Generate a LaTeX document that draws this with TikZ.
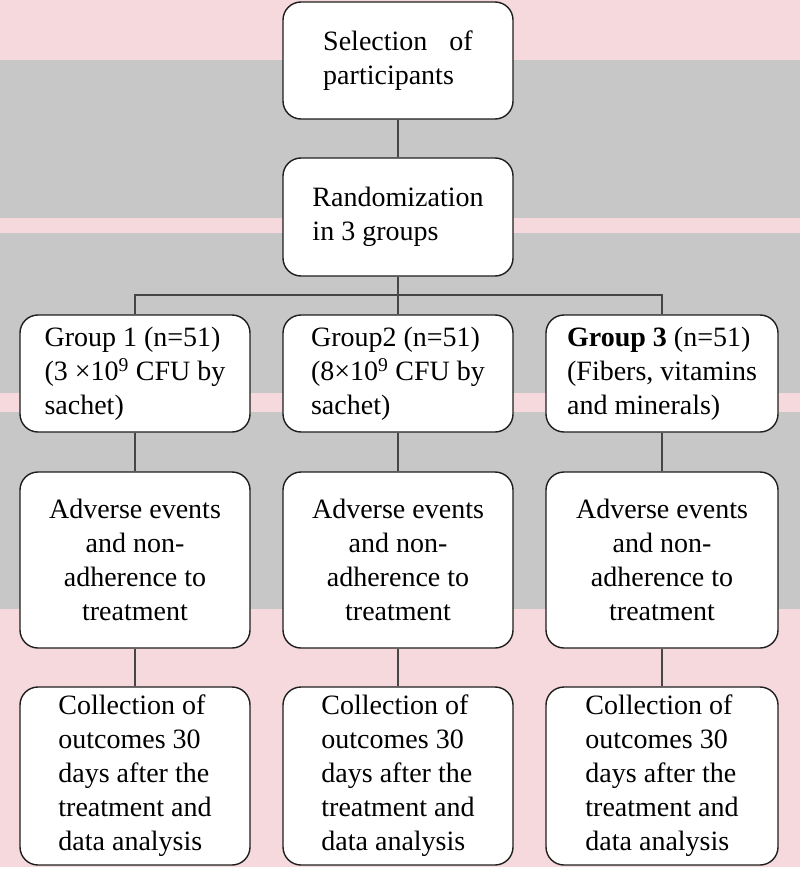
\documentclass[tikz,border=0pt]{standalone}
\usepackage{fontspec}
\setmainfont{Liberation Serif}
\usepackage{tikz}
\usetikzlibrary{positioning,calc}
\definecolor{bandpink}{RGB}{246,217,220}
\definecolor{bandgray}{RGB}{199,199,199}
\definecolor{edge}{RGB}{30,30,30}
\definecolor{wirecol}{RGB}{70,70,70}
\tikzset{
box/.style={draw=edge,line width=1.4pt,fill=white,rounded corners=18pt,align=left,
  font=\fontsize{28}{34}\selectfont,inner sep=3pt},
wire/.style={draw=wirecol,line width=2pt}
}

\begin{document}
\begin{tikzpicture}[x=1pt,y=-1pt]
\fill[white] (0,0) rectangle (800,869);
\fill[bandpink] (0,0) rectangle (800,60);
\fill[bandgray] (0,60) rectangle (800,218);
\fill[bandpink] (0,218) rectangle (800,233);
\fill[bandgray] (0,233) rectangle (800,393);
\fill[bandpink] (0,393) rectangle (800,412);
\fill[bandgray] (0,412) rectangle (800,609);
\fill[bandpink] (0,609) rectangle (800,867);
\useasboundingbox (0,0) rectangle (800,869);

\node[box,minimum width=230pt,minimum height=117pt] (select) at (398,60.5)
  {Selection\hspace{22pt}of\\participants};
\node[box,minimum width=230pt,minimum height=118pt] (rand) at (398,217)
  {Randomization\\in 3 groups};

\node[box,minimum width=230pt,minimum height=117pt] (g1) at (135,373.5)
  {Group 1 (n=51)\\(3 ×10\textsuperscript{9} CFU by\\sachet)};
\node[box,minimum width=230pt,minimum height=117pt] (g2) at (398,373.5)
  {Group2 (n=51)\\(8×10\textsuperscript{9} CFU by\\sachet)};
\node[box,minimum width=232pt,minimum height=117pt] (g3) at (662,373.5)
  {\textbf{Group 3} (n=51)\\(Fibers, vitamins\\and minerals)};

\node[box,align=center,minimum width=230pt,minimum height=176pt] (adv1) at (135,560)
  {Adverse events\\and non-\\adherence to\\treatment};
\node[box,align=center,minimum width=230pt,minimum height=176pt] (adv2) at (398,560)
  {Adverse events\\and non-\\adherence to\\treatment};
\node[box,align=center,minimum width=232pt,minimum height=176pt] (adv3) at (662,560)
  {Adverse events\\and non-\\adherence to\\treatment};

\node[box,minimum width=230pt,minimum height=178pt] (col1) at (135,776)
  {Collection of\\outcomes 30\\days after the\\treatment and\\data analysis};
\node[box,minimum width=230pt,minimum height=178pt] (col2) at (398,776)
  {Collection of\\outcomes 30\\days after the\\treatment and\\data analysis};
\node[box,minimum width=232pt,minimum height=178pt] (col3) at (662,776)
  {Collection of\\outcomes 30\\days after the\\treatment and\\data analysis};

\coordinate (bus) at (398,295);
\draw[wire] (select) -- (rand);
\draw[wire] (rand) -- (bus);
\draw[wire] (g1.north) |- (bus) -| (g3.north);
\draw[wire] (bus) -- (g2);
\draw[wire] (g1) -- (adv1);
\draw[wire] (g2) -- (adv2);
\draw[wire] (g3) -- (adv3);
\draw[wire] (adv1) -- (col1);
\draw[wire] (adv2) -- (col2);
\draw[wire] (adv3) -- (col3);
\end{tikzpicture}
\end{document}
